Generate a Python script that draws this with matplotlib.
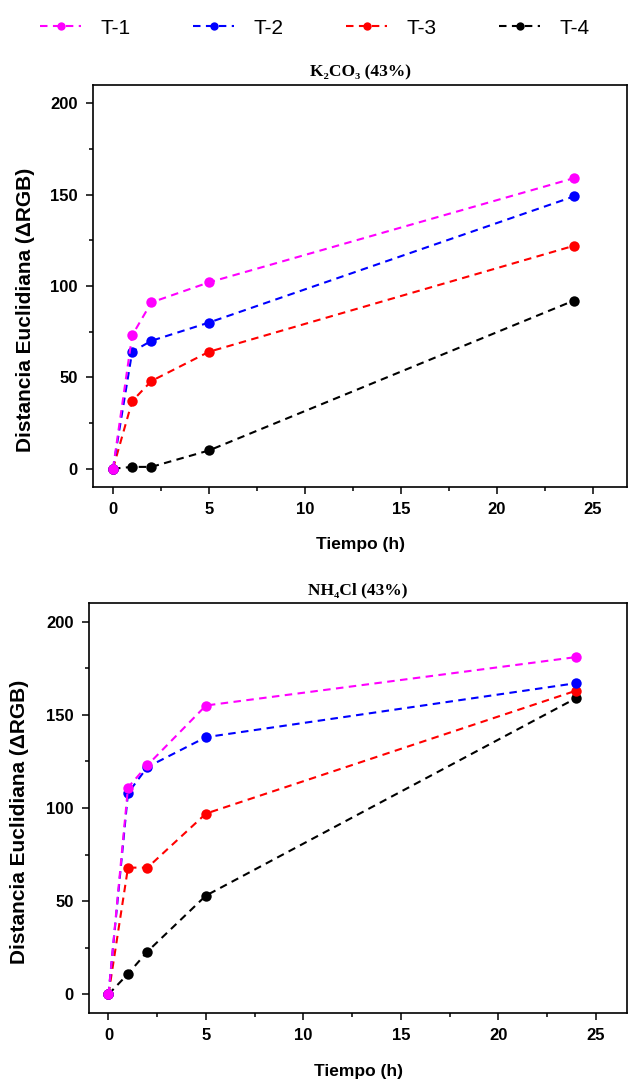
import matplotlib
matplotlib.use("Agg")
import matplotlib.pyplot as plt
from matplotlib.ticker import MultipleLocator

# ---- data ----
time_h = [0, 1, 2, 5, 24]
series_names = ["T-1", "T-2", "T-3", "T-4"]
series_colors = ["#FF00FF", "#0000FF", "#FF0000", "#000000"]

k2co3_t1 = [0, 73, 91, 102, 159]
k2co3_t2 = [0, 64, 70, 80, 149]
k2co3_t3 = [0, 37, 48, 64, 122]
k2co3_t4 = [0, 1, 1, 10, 92]

nh4cl_t1 = [0, 111, 123, 155, 181]
nh4cl_t2 = [0, 108, 122, 138, 167]
nh4cl_t3 = [0, 68, 68, 97, 163]
nh4cl_t4 = [0, 11, 23, 53, 159]

panel_titles = ["K₂CO₃ (43%)", "NH₄Cl (43%)"]
x_label = "Tiempo (h)"
y_label = "Distancia Euclidiana (ΔRGB)"
x_ticks = [0, 5, 10, 15, 20, 25]
y_ticks = [0, 50, 100, 150, 200]

W, H = 629, 1088
fig = plt.figure(figsize=(W / 100, H / 100), dpi=100)

sans = ["Liberation Sans", "DejaVu Sans"]
serif = ["Liberation Serif", "DejaVu Serif"]

panels = [
    dict(rect=(93, 85, 627, 487), xlim=(-1.04, 26.77),
         data=[k2co3_t1, k2co3_t2, k2co3_t3, k2co3_t4], title=panel_titles[0],
         ylab_xy=(-0.108, 0.44)),
    dict(rect=(89, 603, 627, 1013), xlim=(-1.0, 26.6),
         data=[nh4cl_t1, nh4cl_t2, nh4cl_t3, nh4cl_t4], title=panel_titles[1],
         ylab_xy=(-0.112, 0.465)),
]

handles = {}
for p in panels:
    l, t, r, b = p["rect"]
    ax = fig.add_axes([l / W, (H - b) / H, (r - l) / W, (b - t) / H])
    for i in [3, 2, 1, 0]:
        ln, = ax.plot(time_h, p["data"][i], color=series_colors[i], lw=1.5,
                      dashes=(3.6, 2.6), marker="o", markersize=7.5,
                      markeredgewidth=0, label=series_names[i], zorder=3 + (3 - i))
        handles.setdefault(series_names[i], ln)
    ax.set_xlim(*p["xlim"])
    ax.set_ylim(-10, 210)
    ax.set_xticks(x_ticks)
    ax.set_yticks(y_ticks)
    ax.xaxis.set_minor_locator(MultipleLocator(2.5))
    ax.yaxis.set_minor_locator(MultipleLocator(25))
    ax.tick_params(which="major", direction="out", length=5, width=1.1,
                   labelsize=12, pad=6)
    ax.tick_params(which="minor", direction="out", length=3, width=1.1)
    ax.tick_params(top=False, right=False, which="both")
    for lab in ax.get_xticklabels() + ax.get_yticklabels():
        lab.set_fontweight("bold")
        lab.set_family(sans)
    for s in ax.spines.values():
        s.set_linewidth(1.2)
    ax.set_xlabel(x_label, fontsize=12.5, fontweight="bold", family=sans)
    ax.xaxis.set_label_coords(0.5, -0.125)
    ax.set_ylabel(y_label, fontsize=15, fontweight="bold", family=sans)
    ax.yaxis.set_label_coords(*p["ylab_xy"])
    ax.set_title(p["title"], fontsize=12.5, fontweight="bold", family=serif, pad=6)

leg_handles = [handles[n] for n in series_names]
fig.legend(leg_handles, series_names, loc="upper center", ncol=4,
           bbox_to_anchor=(0.5, 1.0), frameon=False,
           prop={"family": sans, "size": 15}, handlelength=2.0,
           columnspacing=3.0, handletextpad=0.9, markerscale=0.8)

fig.savefig("out.png", dpi=100)
